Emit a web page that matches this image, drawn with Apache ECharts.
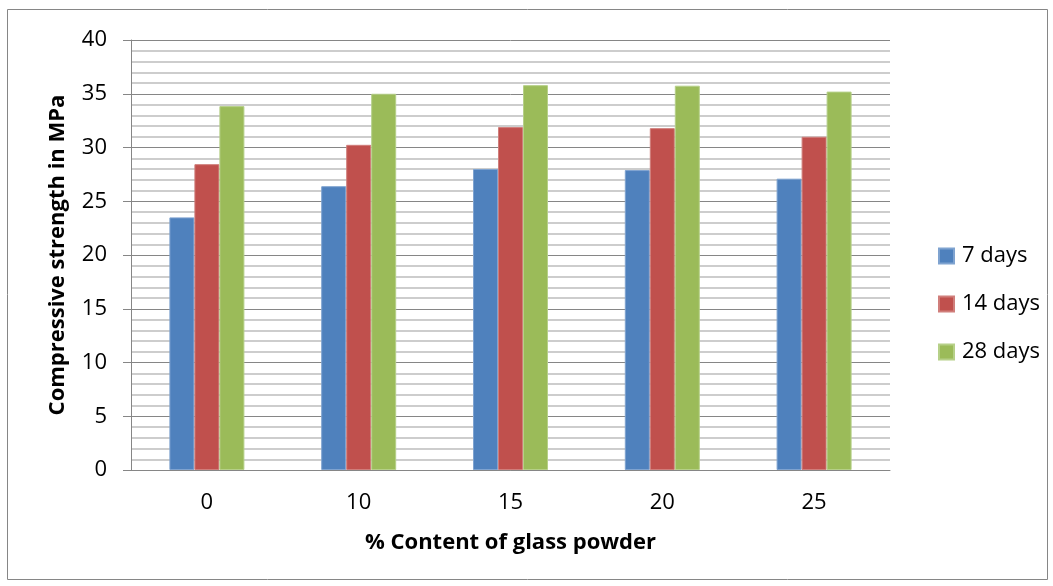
<!DOCTYPE html>
<html>
<head>
<meta charset="utf-8">
<script src="https://cdn.jsdelivr.net/npm/echarts@6/dist/echarts.min.js"></script>
<style>
html, body { margin: 0; padding: 0; background: #fff; }
#chart { width: 1053px; height: 586px; }
</style>
</head>
<body>
<div id="chart"></div>
<script>
// % content of glass powder
let categories = ["0", "10", "15", "20", "25"]
let days7 = [23.5, 26.4, 28.0, 27.9, 27.1]
let days14 = [28.45, 30.25, 31.9, 31.8, 31.0]
let days28 = [33.85, 35.0, 35.8, 35.75, 35.2]

let font = "'Open Sans', 'Liberation Sans', sans-serif"

let myChart = echarts.init(document.getElementById("chart"))

function bar(name, data, color, border) {
    return {
        name: name,
        type: "bar",
        data: data,
        barWidth: 25,
        barGap: "0%",
        itemStyle: { color: color, borderColor: border, borderWidth: 1 }
    }
}

let options = {
    animation: false,
    textStyle: { fontFamily: font },
    graphic: [{
        type: "rect",
        shape: { x: 7.5, y: 9.5, width: 1040, height: 570 },
        style: { fill: "none", stroke: "#868686", lineWidth: 1 },
        silent: true
    }],
    grid: { left: 131, right: 163, top: 40, bottom: 116 },
    legend: {
        orient: "vertical",
        left: 933,
        top: 240,
        icon: "rect",
        itemWidth: 15,
        itemHeight: 15,
        itemGap: 26,
        textStyle: { fontSize: 22, color: "#000", fontFamily: font, padding: [0, 0, 0, 3] }
    },
    xAxis: {
        type: "category",
        data: categories,
        name: "% Content of glass powder",
        nameLocation: "middle",
        nameGap: 62,
        nameTextStyle: { fontSize: 22, fontWeight: "bold", color: "#000", fontFamily: font },
        axisLine: { lineStyle: { color: "#868686" } },
        axisTick: { show: false },
        axisLabel: { fontSize: 22, color: "#000", margin: 22 }
    },
    yAxis: {
        type: "value",
        min: 0,
        max: 40,
        interval: 5,
        name: "Compressive strength in MPa",
        nameLocation: "middle",
        nameGap: 62,
        nameTextStyle: { fontSize: 22, fontWeight: "bold", color: "#000", fontFamily: font },
        axisLine: { show: true, lineStyle: { color: "#868686" } },
        axisTick: { show: true, length: 8, lineStyle: { color: "#868686" } },
        axisLabel: { fontSize: 22, color: "#000", margin: 24 },
        splitLine: { show: true, lineStyle: { color: "#868686", width: 1 } },
        minorTick: { show: false, splitNumber: 5 },
        minorSplitLine: { show: true, lineStyle: { color: "#bdbdbd", width: 1.5 } }
    },
    series: [
        bar("7 days", days7, "#4F81BD", "#7fa3d0"),
        bar("14 days", days14, "#C0504D", "#d07e7b"),
        bar("28 days", days28, "#9BBB59", "#b6d088")
    ]
}
myChart.setOption(options)
</script>
</body>
</html>
